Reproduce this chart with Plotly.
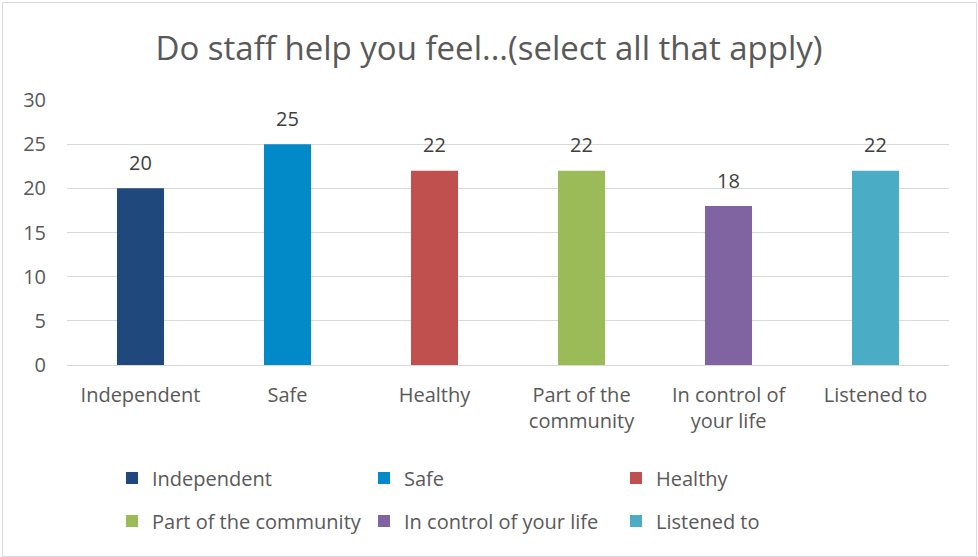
import plotly.graph_objects as go

# Survey responses: "Do staff help you feel..." (multiple choice)
categories = ["Independent", "Safe", "Healthy", "Part of the community",
              "In control of your life", "Listened to"]
tick_labels = ["Independent", "Safe", "Healthy", "Part of the<br>community",
               "In control of<br>your life", "Listened to"]
counts = [20, 25, 22, 22, 18, 22]
colors = ["#1F497D", "#0189C8", "#C0504D", "#9BBB59", "#8064A2", "#4BACC6"]

FONT = "Open Sans"
TEXT = "#595959"
FS = 20

fig = go.Figure()
for i, (cat, val, col) in enumerate(zip(categories, counts, colors)):
    fig.add_trace(go.Bar(
        x=[cat], y=[val], name=cat,
        marker=dict(color=col, line=dict(width=0)),
        width=0.32,
        legend="legend" if i < 3 else "legend2",
        hoverinfo="x+y",
    ))

# value labels sitting above each bar
annotations = [
    dict(x=cat, y=val, xref="x", yref="y", text=str(val), showarrow=False,
         yanchor="middle", yshift=26,
         font=dict(family=FONT, size=FS, color="#404040"))
    for cat, val in zip(categories, counts)
]

W, H = 978, 557
L, R, T, B = 67, 29, 100, 192
pw, ph = W - L - R, H - T - B

legend_common = dict(
    orientation="h", xanchor="left", yanchor="middle",
    entrywidth=207, entrywidthmode="pixels",
    font=dict(family=FONT, size=FS, color=TEXT),
    bgcolor="rgba(0,0,0,0)", itemwidth=30,
    itemclick=False, itemdoubleclick=False,
)

fig.update_layout(
    width=W, height=H,
    margin=dict(l=L, r=R, t=T, b=B),
    paper_bgcolor="white", plot_bgcolor="white",
    barmode="overlay",
    title=dict(text="Do staff help you feel...(select all that apply)",
               x=0.5, xref="container", xanchor="center",
               y=1 - 48 / H, yref="container", yanchor="middle",
               font=dict(family=FONT, size=33, color=TEXT)),
    xaxis=dict(
        categoryorder="array", categoryarray=categories,
        tickmode="array", tickvals=categories, ticktext=tick_labels,
        tickfont=dict(family=FONT, size=FS, color=TEXT),
        showgrid=False, showline=False, ticks="", ticklabelstandoff=16,
        fixedrange=True,
    ),
    yaxis=dict(
        range=[0, 30], dtick=5, tick0=0,
        showgrid=True, gridcolor="#D9D9D9", gridwidth=1,
        zeroline=True, zerolinecolor="#D9D9D9", zerolinewidth=1,
        showline=False, ticks="", ticklabelstandoff=20,
        tickfont=dict(family=FONT, size=FS, color=TEXT),
        fixedrange=True,
    ),
    annotations=annotations,
    legend=dict(x=(112 - L) / pw, y=-(478 - (T + ph)) / ph, **legend_common),
    legend2=dict(x=(112 - L) / pw, y=-(521 - (T + ph)) / ph, **legend_common),
    shapes=[dict(
        type="rect", xref="paper", yref="paper", layer="above",
        x0=(2.5 - L) / pw, x1=(976.5 - L) / pw,
        y0=-(H - 0.5 - (T + ph)) / ph, y1=(T - 2.5) / ph + 1,
        line=dict(color="#D9D9D9", width=1),
    )],
    showlegend=True,
)

fig.write_html("out.html")
